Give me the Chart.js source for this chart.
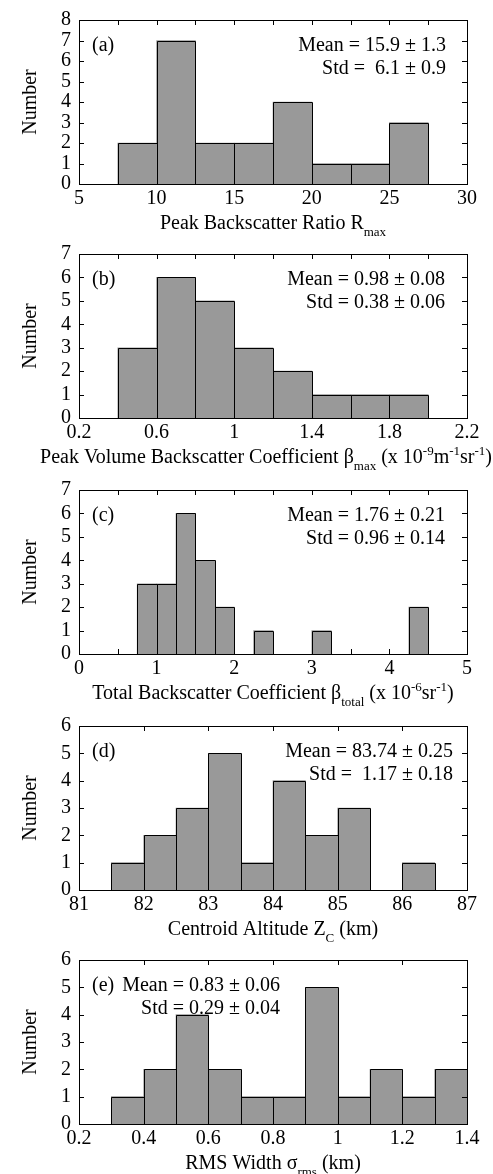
<!DOCTYPE html>
<html>
<head>
<meta charset="utf-8">
<script src="https://cdn.jsdelivr.net/npm/chart.js@4.4.1/dist/chart.umd.min.js"></script>
<style>
html, body { margin:0; padding:0; background:#fff; width:493px; height:1174px; overflow:hidden; }
#wrap { position:relative; width:493px; height:1174px; }
canvas.pc { position:absolute; left:0; }
</style>
</head>
<body>
<div id="wrap"></div>
<script>
// ---------- DATA (histogram bin centres and counts) ----------
const binsA   = [8.75, 11.25, 13.75, 16.25, 18.75, 21.25, 23.75, 26.25];
const countsA = [2, 7, 2, 2, 4, 1, 1, 3];

const binsB   = [0.5, 0.7, 0.9, 1.1, 1.3, 1.5, 1.7, 1.9];
const countsB = [3, 6, 5, 3, 2, 1, 1, 1];

const binsC   = [0.875, 1.125, 1.375, 1.625, 1.875, 2.375, 3.125, 4.375];
const countsC = [3, 3, 6, 4, 2, 1, 1, 2];

const binsD   = [81.75, 82.25, 82.75, 83.25, 83.75, 84.25, 84.75, 85.25, 86.25];
const countsD = [1, 2, 3, 5, 1, 4, 2, 3, 1];

const binsE   = [0.35, 0.45, 0.55, 0.65, 0.75, 0.85, 0.95, 1.05, 1.15, 1.25, 1.35];
const countsE = [1, 2, 4, 2, 1, 1, 5, 1, 2, 1, 2];

// ---------- TICKS ----------
const xTicksA  = [5, 7.5, 10, 12.5, 15, 17.5, 20, 22.5, 25, 27.5, 30];
const xLabelsA = [5, 10, 15, 20, 25, 30];
const xTicksB  = [0.2, 0.4, 0.6, 0.8, 1, 1.2, 1.4, 1.6, 1.8, 2, 2.2];
const xLabelsB = [0.2, 0.6, 1, 1.4, 1.8, 2.2];
const xTicksC  = [0, 0.5, 1, 1.5, 2, 2.5, 3, 3.5, 4, 4.5, 5];
const xLabelsC = [0, 1, 2, 3, 4, 5];
const xTicksD  = [81, 82, 83, 84, 85, 86, 87];
const xLabelsD = [81, 82, 83, 84, 85, 86, 87];
const xTicksE  = [0.2, 0.4, 0.6, 0.8, 1, 1.2, 1.4];
const xLabelsE = [0.2, 0.4, 0.6, 0.8, 1, 1.2, 1.4];

const yTicksA = [0, 1, 2, 3, 4, 5, 6, 7, 8];
const yTicksB = [0, 1, 2, 3, 4, 5, 6, 7];
const yTicksC = [0, 1, 2, 3, 4, 5, 6, 7];
const yTicksD = [0, 1, 2, 3, 4, 5, 6];
const yTicksE = [0, 1, 2, 3, 4, 5, 6];

// ---------- TEXTS ----------
const panelTags = ['(a)', '(b)', '(c)', '(d)', '(e)'];
const meanTexts = ['Mean = 15.9 \u00b1 1.3', 'Mean = 0.98 \u00b1 0.08', 'Mean = 1.76 \u00b1 0.21',
                   'Mean = 83.74 \u00b1 0.25', 'Mean = 0.83 \u00b1 0.06'];
const stdTexts  = ['Std =  6.1 \u00b1 0.9', 'Std = 0.38 \u00b1 0.06', 'Std = 0.96 \u00b1 0.14',
                   'Std =  1.17 \u00b1 0.18', 'Std = 0.29 \u00b1 0.04'];
const yTitle = 'Number';
// x-axis titles as [text, kind] segments (n = normal, sub, sup)
const xTitleA = [['Peak Backscatter Ratio R', 'n'], ['max', 'sub']];
const xTitleB = [['Peak Volume Backscatter Coefficient \u03b2', 'n'], ['max', 'sub'], [' (x 10', 'n'], ['-9', 'sup'],
                 ['m', 'n'], ['-1', 'sup'], ['sr', 'n'], ['-1', 'sup'], [')', 'n']];
const xTitleC = [['Total Backscatter Coefficient \u03b2', 'n'], ['total', 'sub'], [' (x 10', 'n'], ['-6', 'sup'],
                 ['sr', 'n'], ['-1', 'sup'], [')', 'n']];
const xTitleD = [['Centroid Altitude Z', 'n'], ['C', 'sub'], [' (km)', 'n']];
const xTitleE = [['RMS Width \u03c3', 'n'], ['rms', 'sub'], [' (km)', 'n']];

// ---------- STYLE / LAYOUT ----------
const FAMILY = "'Liberation Serif', 'Times New Roman', serif";
const MAIN = "20px " + FAMILY;
const SMALL = "13px " + FAMILY;
const CANVAS_H = 245;
const PLOT_TOP = 14;
const PLOT_H = 170;
const AXIS_W = 79;
const RIGHT_PAD = 26;

Chart.defaults.font.family = FAMILY;
Chart.defaults.font.size = 20;
Chart.defaults.color = '#000';

const panels = [
  { bins: binsA, counts: countsA, xMin: 5,   xMax: 30,  xTicks: xTicksA, xLabels: xLabelsA, yTicks: yTicksA, title: xTitleA, canvasTop: 0,   textRight: 446, tagLeft: 92 },
  { bins: binsB, counts: countsB, xMin: 0.2, xMax: 2.2, xTicks: xTicksB, xLabels: xLabelsB, yTicks: yTicksB, title: xTitleB, canvasTop: 234, textRight: 445, tagLeft: 92 },
  { bins: binsC, counts: countsC, xMin: 0,   xMax: 5,   xTicks: xTicksC, xLabels: xLabelsC, yTicks: yTicksC, title: xTitleC, canvasTop: 470, textRight: 445, tagLeft: 92 },
  { bins: binsD, counts: countsD, xMin: 81,  xMax: 87,  xTicks: xTicksD, xLabels: xLabelsD, yTicks: yTicksD, title: xTitleD, canvasTop: 706, textRight: 453, tagLeft: 92 },
  { bins: binsE, counts: countsE, xMin: 0.2, xMax: 1.4, xTicks: xTicksE, xLabels: xLabelsE, yTicks: yTicksE, title: xTitleE, canvasTop: 940, textRight: 280, tagLeft: 92 }
];

function segFont(kind) { return kind === 'n' ? MAIN : SMALL; }
function segDy(kind) { return kind === 'sub' ? 7 : (kind === 'sup' ? -8 : 0); }
function richWidth(ctx, segs) {
  let w = 0;
  for (const [t, k] of segs) { ctx.font = segFont(k); w += ctx.measureText(t).width; }
  return w;
}
function drawRich(ctx, segs, x, y) {
  ctx.textAlign = 'left';
  ctx.textBaseline = 'alphabetic';
  for (const [t, k] of segs) {
    ctx.font = segFont(k);
    ctx.fillText(t, x, y + segDy(k));
    x += ctx.measureText(t).width;
  }
}

const decor = {
  id: 'decor',
  afterDatasetsDraw(chart, args, o) {
    const p = o.panel, i = o.index;
    const ctx = chart.ctx, a = chart.chartArea;
    const xs = chart.scales.x, ys = chart.scales.y;
    ctx.save();
    ctx.strokeStyle = '#000';
    ctx.lineWidth = 1;
    // bar outlines (from the bar elements laid out by Chart.js)
    const meta = chart.getDatasetMeta(0);
    ctx.beginPath();
    for (const el of meta.data) {
      const props = el.getProps(['x', 'y', 'base', 'width'], true);
      const l = Math.round(props.x - props.width / 2) + 0.5;
      const r = Math.round(props.x + props.width / 2) + 0.5;
      const t = Math.round(props.y) + 0.5;
      const b = Math.round(props.base) + 0.5;
      ctx.rect(l, t, r - l, b - t);
    }
    ctx.stroke();
    // inward ticks on all four sides
    ctx.beginPath();
    for (const tk of xs.ticks) {
      const px = Math.round(xs.getPixelForValue(tk.value)) + 0.5;
      ctx.moveTo(px, a.bottom); ctx.lineTo(px, a.bottom - 5);
      ctx.moveTo(px, a.top); ctx.lineTo(px, a.top + 5);
    }
    for (const tk of ys.ticks) {
      const py = Math.round(ys.getPixelForValue(tk.value)) + 0.5;
      ctx.moveTo(a.left, py); ctx.lineTo(a.left + 5, py);
      ctx.moveTo(a.right, py); ctx.lineTo(a.right - 5, py);
    }
    ctx.stroke();
    // frame
    ctx.strokeRect(Math.round(a.left) + 0.5, Math.round(a.top) + 0.5,
                   Math.round(a.right - a.left), Math.round(a.bottom - a.top));
    // annotations
    ctx.fillStyle = '#000';
    ctx.font = MAIN;
    ctx.textBaseline = 'middle';
    ctx.textAlign = 'left';
    ctx.fillText(panelTags[i], p.tagLeft, a.top + 26);
    ctx.textAlign = 'right';
    ctx.fillText(meanTexts[i], p.textRight, a.top + 26);
    ctx.fillText(stdTexts[i], p.textRight, a.top + 49);
    // x-axis title with sub/superscripts
    const w = richWidth(ctx, p.title);
    let x0 = (a.left + a.right) / 2 - w / 2;
    if (x0 + w > 492) x0 = 492 - w;
    drawRich(ctx, p.title, x0, a.bottom + 45);
    ctx.restore();
  }
};

const wrap = document.getElementById('wrap');
panels.forEach((p, i) => {
  const cv = document.createElement('canvas');
  cv.className = 'pc';
  cv.width = 493;
  cv.height = CANVAS_H;
  cv.style.width = '493px';
  cv.style.height = CANVAS_H + 'px';
  cv.style.top = p.canvasTop + 'px';
  wrap.appendChild(cv);
  new Chart(cv.getContext('2d'), {
    type: 'bar',
    data: {
      datasets: [{
        data: p.bins.map((b, k) => ({ x: b, y: p.counts[k] })),
        backgroundColor: '#999999',
        borderWidth: 0,
        barPercentage: 1,
        categoryPercentage: 1
      }]
    },
    options: {
      responsive: false,
      animation: false,
      devicePixelRatio: 1,
      layout: { padding: { left: 0, right: RIGHT_PAD, top: PLOT_TOP, bottom: 0 } },
      plugins: { legend: { display: false }, tooltip: { enabled: false }, decor: { panel: p, index: i } },
      scales: {
        x: {
          type: 'linear',
          offset: false,
          min: p.xMin,
          max: p.xMax,
          grid: { display: false, drawTicks: false },
          border: { display: false },
          afterBuildTicks: s => { s.ticks = p.xTicks.map(v => ({ value: v })); },
          afterFit: s => { s.height = CANVAS_H - PLOT_TOP - PLOT_H; },
          ticks: {
            autoSkip: false, maxRotation: 0, padding: 3,
            callback: v => (p.xLabels.includes(v) ? String(v) : '')
          }
        },
        y: {
          min: 0,
          max: p.yTicks[p.yTicks.length - 1],
          grid: { display: false, drawTicks: false },
          border: { display: false },
          afterBuildTicks: s => { s.ticks = p.yTicks.map(v => ({ value: v })); },
          afterFit: s => { s.width = AXIS_W; },
          ticks: { autoSkip: false, padding: 8, callback: v => String(v) },
          title: { display: true, text: yTitle, padding: { top: 19, bottom: 0 } }
        }
      }
    },
    plugins: [decor]
  });
});
</script>
</body>
</html>
